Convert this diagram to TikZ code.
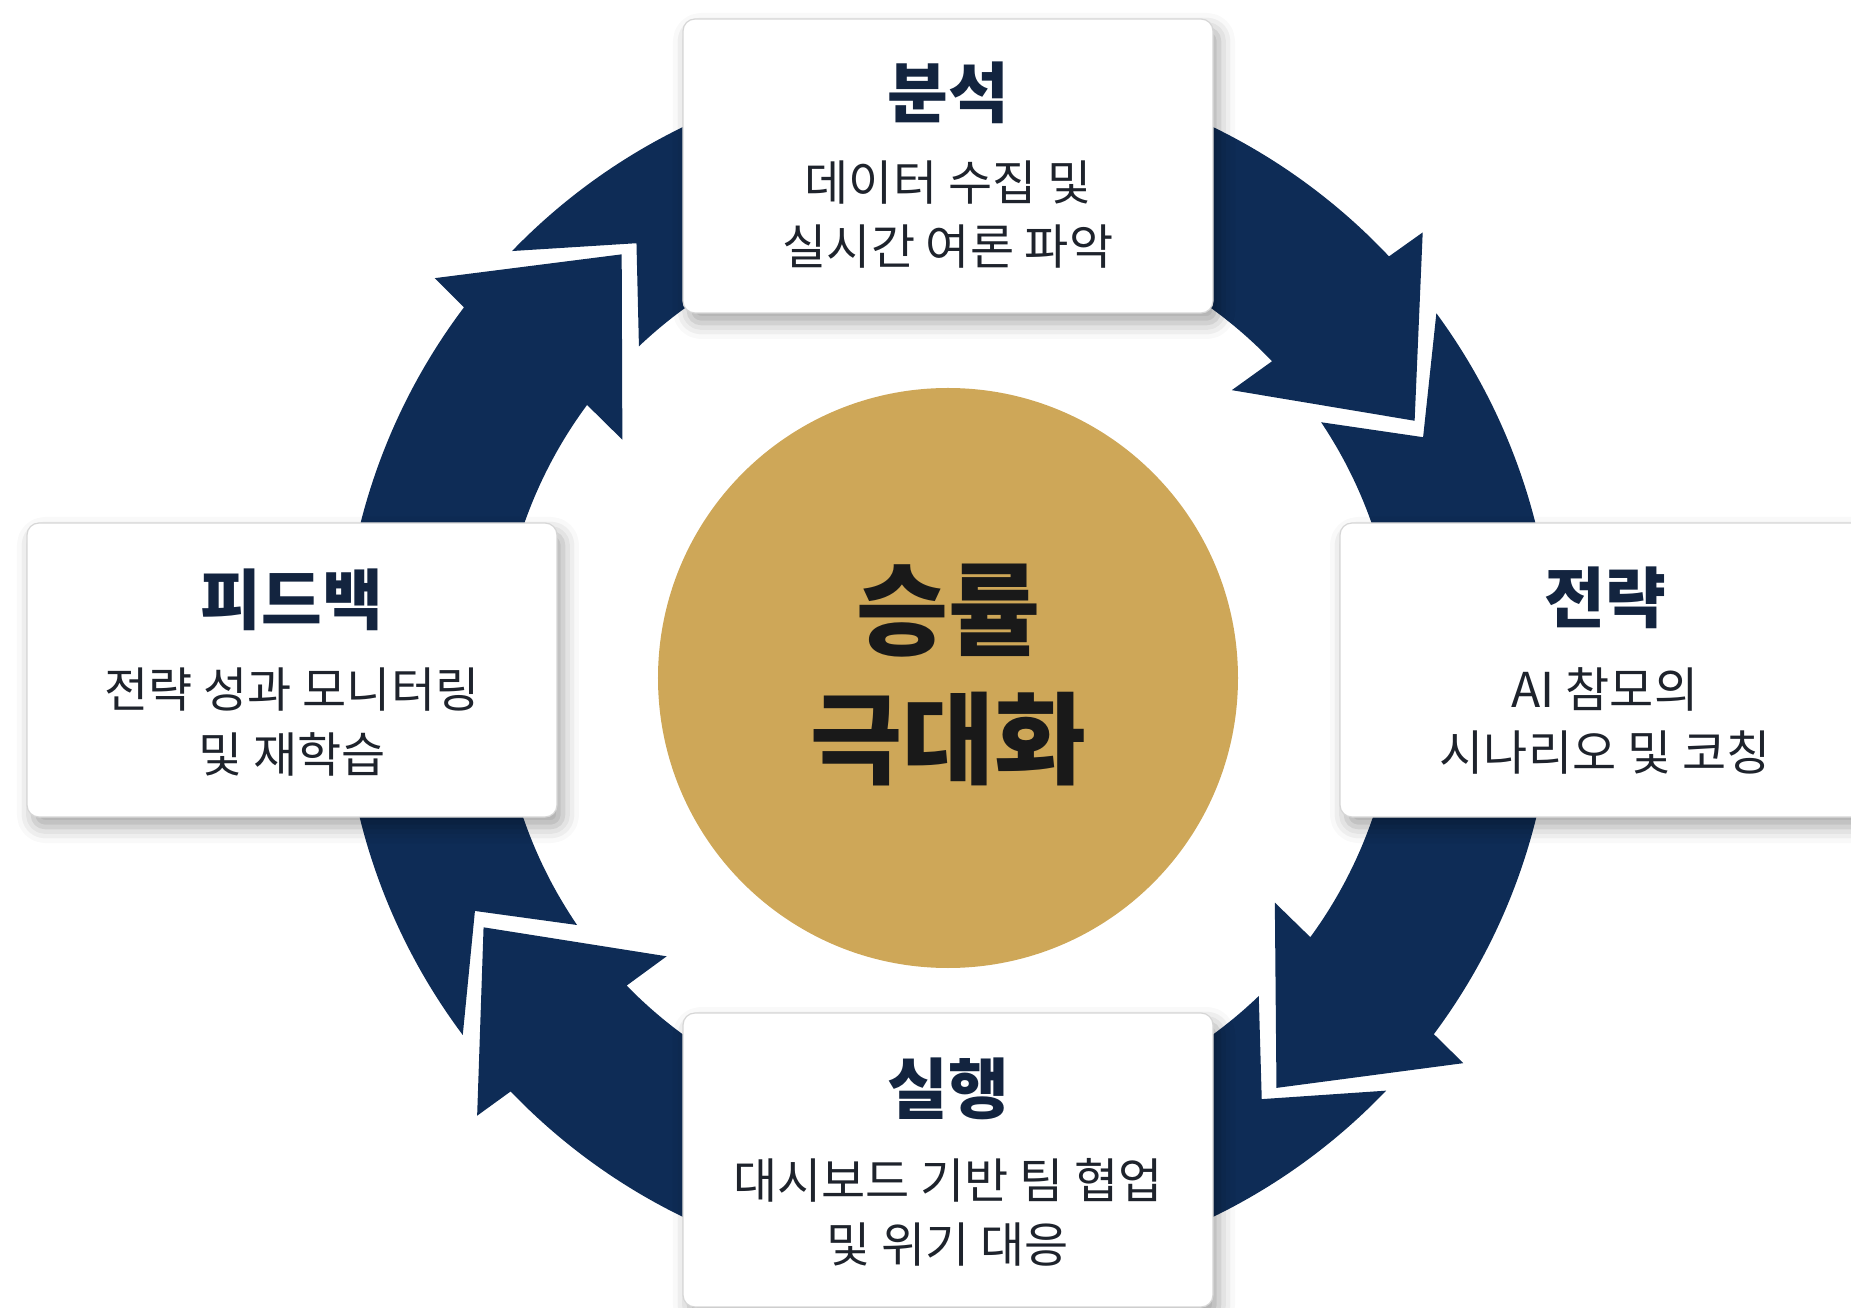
\documentclass[tikz,border=0pt]{standalone}
\usepackage{fontspec}
\setmainfont{Noto Sans CJK KR}
\usetikzlibrary{shadows.blur}

\definecolor{ringnavy}{RGB}{14,44,86}
\definecolor{goldfill}{RGB}{206,167,88}
\definecolor{titleink}{RGB}{19,36,63}
\definecolor{bodyink}{RGB}{30,35,44}

\begin{document}
\begin{tikzpicture}[x=1pt, y=1pt, stagetitle/.style={font=\fontsize{66}{74}\selectfont\bfseries, text=titleink, inner sep=0pt}, stagetext/.style={font=\fontsize{48}{56}\selectfont, text=bodyink, inner sep=0pt}]
	\tikzstyle{stage}=[rectangle, rounded corners=12pt, fill=white, draw=black!16, line width=1.2pt, minimum width=530pt, minimum height=294pt, blur shadow={shadow xshift=6pt, shadow yshift=-10pt, shadow blur radius=16pt, shadow opacity=35}]
	\tikzstyle{coretext}=[font=\fontsize{100}{110}\selectfont\bfseries, text=black!90, inner sep=0pt]

	\useasboundingbox (-948,-636) rectangle (903,672);

	% ring of four arrows, running clockwise
	\fill[ringnavy] (136:606pt) arc[start angle=136, end angle=43.3, radius=606pt] -- (42.8:647pt) -- (28.3:530pt) -- (44.8:400pt) -- (43.8:449pt) arc[start angle=43.8, end angle=133.5, radius=449pt] -- (126:530pt) -- cycle;
	\fill[ringnavy] (36.3:606pt) arc[start angle=36.3, end angle=-36.7, radius=606pt] -- (-37.2:647pt) -- (-51.7:530pt) -- (-35.2:400pt) -- (-36.2:449pt) arc[start angle=-36.2, end angle=33.8, radius=449pt] -- (26.3:530pt) -- cycle;
	\fill[ringnavy] (-43.7:606pt) arc[start angle=-43.7, end angle=-136.2, radius=606pt] -- (-136.7:647pt) -- (-151.2:530pt) -- (-134.7:400pt) -- (-135.7:449pt) arc[start angle=-135.7, end angle=-46.2, radius=449pt] -- (-53.7:530pt) -- cycle;
	\fill[ringnavy] (216.8:606pt) arc[start angle=216.8, end angle=143, radius=606pt] -- (142.5:647pt) -- (128:530pt) -- (144.5:400pt) -- (143.5:449pt) arc[start angle=143.5, end angle=214.3, radius=449pt] -- (206.8:530pt) -- cycle;

	% centre
	\node[circle, fill=goldfill, minimum size=580pt, inner sep=0pt] (core) at (0,-6) {};
	\node[coretext] (coreTop) at ([yshift=67pt]core.center) {승률};
	\node[coretext] (coreBottom) at ([yshift=-61pt]core.center) {극대화};

	% the four stages
	\node[stage] (analysis) at (0,506) {};
	\node[stage] (strategy) at (657,2) {};
	\node[stage] (execution) at (0,-488) {};
	\node[stage] (feedback) at (-656,2) {};

	\node[stagetitle] (analysisTitle) at ([yshift=73pt]analysis.center) {분석};
	\node[stagetext] (analysisA) at ([yshift=-17pt]analysis.center) {데이터 수집 및};
	\node[stagetext] (analysisB) at ([yshift=-81pt]analysis.center) {실시간 여론 파악};

	\node[stagetitle] (strategyTitle) at ([yshift=72pt]strategy.center) {전략};
	\node[stagetext] (strategyA) at ([yshift=-19pt]strategy.center) {AI 참모의};
	\node[stagetext] (strategyB) at ([yshift=-83pt]strategy.center) {시나리오 및 코칭};

	\node[stagetitle] (executionTitle) at ([yshift=71pt]execution.center) {실행};
	\node[stagetext] (executionA) at ([yshift=-20pt]execution.center) {대시보드 기반 팀 협업};
	\node[stagetext] (executionB) at ([yshift=-85pt]execution.center) {및 위기 대응};

	\node[stagetitle] (feedbackTitle) at ([yshift=70pt]feedback.center) {피드백};
	\node[stagetext] (feedbackA) at ([yshift=-20pt]feedback.center) {전략 성과 모니터링};
	\node[stagetext] (feedbackB) at ([yshift=-84pt]feedback.center) {및 재학습};
\end{tikzpicture}
\end{document}
